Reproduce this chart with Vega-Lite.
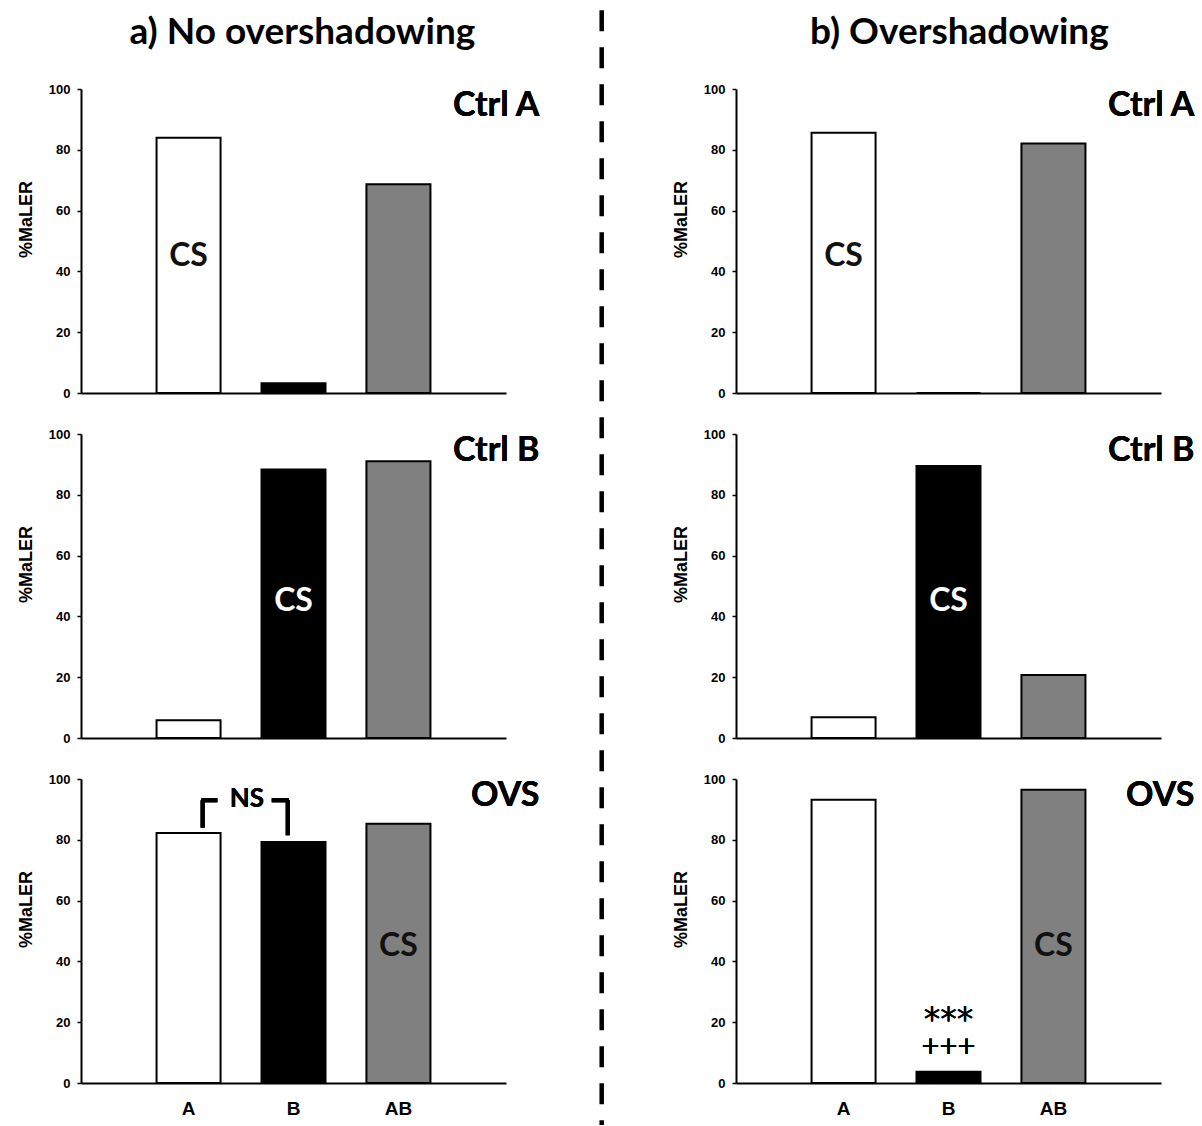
{
  "$schema": "https://vega.github.io/schema/vega-lite/v6.json",
  "padding": {"left": 17, "top": 8, "right": 0, "bottom": 0},
  "background": "white",
  "spacing": 41,
  "datasets": {
    "bars": [
      {"cond": "a", "panel": "Ctrl A", "stim": "A", "value": 84, "cs": "CS"},
      {"cond": "a", "panel": "Ctrl A", "stim": "B", "value": 3.2, "cs": ""},
      {"cond": "a", "panel": "Ctrl A", "stim": "AB", "value": 68.7, "cs": ""},
      {"cond": "a", "panel": "Ctrl B", "stim": "A", "value": 5.8, "cs": ""},
      {"cond": "a", "panel": "Ctrl B", "stim": "B", "value": 88.3, "cs": "CS"},
      {"cond": "a", "panel": "Ctrl B", "stim": "AB", "value": 91, "cs": ""},
      {"cond": "a", "panel": "OVS", "stim": "A", "value": 82.2, "cs": ""},
      {"cond": "a", "panel": "OVS", "stim": "B", "value": 79.3, "cs": ""},
      {"cond": "a", "panel": "OVS", "stim": "AB", "value": 85.3, "cs": "CS"},
      {"cond": "b", "panel": "Ctrl A", "stim": "A", "value": 85.6, "cs": "CS"},
      {"cond": "b", "panel": "Ctrl A", "stim": "B", "value": 0, "cs": ""},
      {"cond": "b", "panel": "Ctrl A", "stim": "AB", "value": 82.1, "cs": ""},
      {"cond": "b", "panel": "Ctrl B", "stim": "A", "value": 6.8, "cs": ""},
      {"cond": "b", "panel": "Ctrl B", "stim": "B", "value": 89.5, "cs": "CS"},
      {"cond": "b", "panel": "Ctrl B", "stim": "AB", "value": 20.7, "cs": ""},
      {"cond": "b", "panel": "OVS", "stim": "A", "value": 93.2, "cs": ""},
      {"cond": "b", "panel": "OVS", "stim": "B", "value": 3.7, "cs": ""},
      {"cond": "b", "panel": "OVS", "stim": "AB", "value": 96.5, "cs": "CS"}
    ]
  },
  "config": {
    "view": {"stroke": null},
    "font": "Liberation Sans",
    "axis": {"domainColor": "black", "domainWidth": 2, "tickColor": "black", "tickWidth": 1.5, "labelColor": "black", "labelFontWeight": "bold", "titleColor": "black", "grid": false},
    "axisY": {"tickSize": 4, "labelFontSize": 13, "labelPadding": 7, "titleFontSize": 18, "titleFontWeight": "bold", "titlePadding": 13, "titleY": 130},
    "axisX": {"ticks": false, "labelAngle": 0, "labelFontSize": 19, "labelPadding": 16},
    "title": {"font": "Lato", "fontSize": 37, "fontWeight": "bold", "color": "black", "anchor": "middle", "offset": 31}
  },
  "hconcat": [
    {
      "title": {"text": "a) No overshadowing", "dx": 24},
      "spacing": 28,
      "vconcat": [
        {
          "width": 425, "height": 304,
          "data": {"name": "bars"},
          "transform": [{"filter": "datum.cond === 'a' && datum.panel === 'Ctrl A'"}],
          "layer": [
            {"mark": {"type": "bar", "stroke": "black", "strokeWidth": 2},
             "encoding": {
               "x": {"field": "stim", "type": "nominal", "sort": ["A", "B", "AB"], "scale": {"paddingInner": 0.39, "paddingOuter": 0.72}, "axis": {"labels": false, "title": null}},
               "y": {"field": "value", "type": "quantitative", "scale": {"domain": [0, 100]}, "title": "%MaLER", "axis": {"values": [0, 20, 40, 60, 80, 100]}},
               "fill": {"field": "stim", "type": "nominal", "scale": {"domain": ["A", "B", "AB"], "range": ["white", "black", "#808080"]}, "legend": null}}},
            {"transform": [{"filter": "datum.cs === 'CS'"}],
             "mark": {"type": "text", "font": "Lato", "fontSize": 32, "fontWeight": "bold", "baseline": "middle"},
             "encoding": {"x": {"field": "stim", "type": "nominal", "sort": ["A", "B", "AB"]}, "y": {"datum": 45},
               "text": {"field": "cs"},
               "fill": {"condition": {"test": "datum.stim === 'B'", "value": "white"}, "value": "#111111"}}},
            {"mark": {"type": "text", "font": "Lato", "fontSize": 34, "fontWeight": "bold", "align": "right", "baseline": "top", "dx": 141, "dy": 0},
             "encoding": {"x": {"datum": "AB"}, "y": {"datum": 100}, "text": {"value": "Ctrl A"}, "color": {"value": "black"}}}
          ]
        },
        {
          "width": 425, "height": 304,
          "data": {"name": "bars"},
          "transform": [{"filter": "datum.cond === 'a' && datum.panel === 'Ctrl B'"}],
          "layer": [
            {"mark": {"type": "bar", "stroke": "black", "strokeWidth": 2},
             "encoding": {
               "x": {"field": "stim", "type": "nominal", "sort": ["A", "B", "AB"], "scale": {"paddingInner": 0.39, "paddingOuter": 0.72}, "axis": {"labels": false, "title": null}},
               "y": {"field": "value", "type": "quantitative", "scale": {"domain": [0, 100]}, "title": "%MaLER", "axis": {"values": [0, 20, 40, 60, 80, 100]}},
               "fill": {"field": "stim", "type": "nominal", "scale": {"domain": ["A", "B", "AB"], "range": ["white", "black", "#808080"]}, "legend": null}}},
            {"transform": [{"filter": "datum.cs === 'CS'"}],
             "mark": {"type": "text", "font": "Lato", "fontSize": 32, "fontWeight": "bold", "baseline": "middle"},
             "encoding": {"x": {"field": "stim", "type": "nominal", "sort": ["A", "B", "AB"]}, "y": {"datum": 45},
               "text": {"field": "cs"},
               "fill": {"condition": {"test": "datum.stim === 'B'", "value": "white"}, "value": "#111111"}}},
            {"mark": {"type": "text", "font": "Lato", "fontSize": 34, "fontWeight": "bold", "align": "right", "baseline": "top", "dx": 141, "dy": 0},
             "encoding": {"x": {"datum": "AB"}, "y": {"datum": 100}, "text": {"value": "Ctrl B"}, "color": {"value": "black"}}}
          ]
        },
        {
          "width": 425, "height": 304,
          "data": {"name": "bars"},
          "transform": [{"filter": "datum.cond === 'a' && datum.panel === 'OVS'"}],
          "layer": [
            {"mark": {"type": "bar", "stroke": "black", "strokeWidth": 2},
             "encoding": {
               "x": {"field": "stim", "type": "nominal", "sort": ["A", "B", "AB"], "scale": {"paddingInner": 0.39, "paddingOuter": 0.72}, "axis": {"title": null}},
               "y": {"field": "value", "type": "quantitative", "scale": {"domain": [0, 100]}, "title": "%MaLER", "axis": {"values": [0, 20, 40, 60, 80, 100]}},
               "fill": {"field": "stim", "type": "nominal", "scale": {"domain": ["A", "B", "AB"], "range": ["white", "black", "#808080"]}, "legend": null}}},
            {"transform": [{"filter": "datum.cs === 'CS'"}],
             "mark": {"type": "text", "font": "Lato", "fontSize": 32, "fontWeight": "bold", "baseline": "middle"},
             "encoding": {"x": {"field": "stim", "type": "nominal", "sort": ["A", "B", "AB"]}, "y": {"datum": 45},
               "text": {"field": "cs"},
               "fill": {"condition": {"test": "datum.stim === 'B'", "value": "white"}, "value": "#111111"}}},
            {"mark": {"type": "text", "font": "Lato", "fontSize": 34, "fontWeight": "bold", "align": "right", "baseline": "top", "dx": 141, "dy": 0},
             "encoding": {"x": {"datum": "AB"}, "y": {"datum": 100}, "text": {"value": "OVS"}, "color": {"value": "black"}}},
            {"mark": {"type": "rule", "strokeWidth": 4, "color": "black"},
             "encoding": {"x": {"datum": "A", "bandPosition": 0.72}, "y": {"datum": 84}, "y2": {"datum": 93}}},
            {"mark": {"type": "rule", "strokeWidth": 4, "color": "black"},
             "encoding": {"x": {"datum": "A", "bandPosition": 0.70}, "x2": {"datum": "A", "bandPosition": 0.95}, "y": {"datum": 93}}},
            {"mark": {"type": "rule", "strokeWidth": 4, "color": "black"},
             "encoding": {"x": {"datum": "B", "bandPosition": 0.16}, "x2": {"datum": "B", "bandPosition": 0.43}, "y": {"datum": 93}}},
            {"mark": {"type": "rule", "strokeWidth": 4, "color": "black"},
             "encoding": {"x": {"datum": "B", "bandPosition": 0.41}, "y": {"datum": 93}, "y2": {"datum": 81.5}}},
            {"mark": {"type": "text", "font": "Lato", "fontSize": 26, "fontWeight": "bold", "baseline": "middle", "color": "black"},
             "encoding": {"x": {"datum": "A", "bandPosition": 1.41}, "y": {"datum": 93.5}, "text": {"value": "NS"}}}
          ]
        }
      ]
    },
    {
      "width": 50, "height": 1036,
      "data": {"values": [{}]},
      "mark": {"type": "rule", "strokeDash": [21, 16], "strokeWidth": 4.5, "color": "black", "clip": false},
      "encoding": {
        "x": {"datum": 0.414, "type": "quantitative", "scale": {"domain": [0, 1]}, "axis": null},
        "y": {"datum": 1.076, "type": "quantitative", "scale": {"domain": [0, 1]}, "axis": null},
        "y2": {"datum": 0}
      }
    },
    {
      "title": {"text": "b) Overshadowing", "dx": 26},
      "spacing": 28,
      "vconcat": [
        {
          "width": 425, "height": 304,
          "data": {"name": "bars"},
          "transform": [{"filter": "datum.cond === 'b' && datum.panel === 'Ctrl A'"}],
          "layer": [
            {"mark": {"type": "bar", "stroke": "black", "strokeWidth": 2},
             "encoding": {
               "x": {"field": "stim", "type": "nominal", "sort": ["A", "B", "AB"], "scale": {"paddingInner": 0.39, "paddingOuter": 0.72}, "axis": {"labels": false, "title": null}},
               "y": {"field": "value", "type": "quantitative", "scale": {"domain": [0, 100]}, "title": "%MaLER", "axis": {"values": [0, 20, 40, 60, 80, 100]}},
               "fill": {"field": "stim", "type": "nominal", "scale": {"domain": ["A", "B", "AB"], "range": ["white", "black", "#808080"]}, "legend": null}}},
            {"transform": [{"filter": "datum.cs === 'CS'"}],
             "mark": {"type": "text", "font": "Lato", "fontSize": 32, "fontWeight": "bold", "baseline": "middle"},
             "encoding": {"x": {"field": "stim", "type": "nominal", "sort": ["A", "B", "AB"]}, "y": {"datum": 45},
               "text": {"field": "cs"},
               "fill": {"condition": {"test": "datum.stim === 'B'", "value": "white"}, "value": "#111111"}}},
            {"mark": {"type": "text", "font": "Lato", "fontSize": 34, "fontWeight": "bold", "align": "right", "baseline": "top", "dx": 141, "dy": 0},
             "encoding": {"x": {"datum": "AB"}, "y": {"datum": 100}, "text": {"value": "Ctrl A"}, "color": {"value": "black"}}}
          ]
        },
        {
          "width": 425, "height": 304,
          "data": {"name": "bars"},
          "transform": [{"filter": "datum.cond === 'b' && datum.panel === 'Ctrl B'"}],
          "layer": [
            {"mark": {"type": "bar", "stroke": "black", "strokeWidth": 2},
             "encoding": {
               "x": {"field": "stim", "type": "nominal", "sort": ["A", "B", "AB"], "scale": {"paddingInner": 0.39, "paddingOuter": 0.72}, "axis": {"labels": false, "title": null}},
               "y": {"field": "value", "type": "quantitative", "scale": {"domain": [0, 100]}, "title": "%MaLER", "axis": {"values": [0, 20, 40, 60, 80, 100]}},
               "fill": {"field": "stim", "type": "nominal", "scale": {"domain": ["A", "B", "AB"], "range": ["white", "black", "#808080"]}, "legend": null}}},
            {"transform": [{"filter": "datum.cs === 'CS'"}],
             "mark": {"type": "text", "font": "Lato", "fontSize": 32, "fontWeight": "bold", "baseline": "middle"},
             "encoding": {"x": {"field": "stim", "type": "nominal", "sort": ["A", "B", "AB"]}, "y": {"datum": 45},
               "text": {"field": "cs"},
               "fill": {"condition": {"test": "datum.stim === 'B'", "value": "white"}, "value": "#111111"}}},
            {"mark": {"type": "text", "font": "Lato", "fontSize": 34, "fontWeight": "bold", "align": "right", "baseline": "top", "dx": 141, "dy": 0},
             "encoding": {"x": {"datum": "AB"}, "y": {"datum": 100}, "text": {"value": "Ctrl B"}, "color": {"value": "black"}}}
          ]
        },
        {
          "width": 425, "height": 304,
          "data": {"name": "bars"},
          "transform": [{"filter": "datum.cond === 'b' && datum.panel === 'OVS'"}],
          "layer": [
            {"mark": {"type": "bar", "stroke": "black", "strokeWidth": 2},
             "encoding": {
               "x": {"field": "stim", "type": "nominal", "sort": ["A", "B", "AB"], "scale": {"paddingInner": 0.39, "paddingOuter": 0.72}, "axis": {"title": null}},
               "y": {"field": "value", "type": "quantitative", "scale": {"domain": [0, 100]}, "title": "%MaLER", "axis": {"values": [0, 20, 40, 60, 80, 100]}},
               "fill": {"field": "stim", "type": "nominal", "scale": {"domain": ["A", "B", "AB"], "range": ["white", "black", "#808080"]}, "legend": null}}},
            {"transform": [{"filter": "datum.cs === 'CS'"}],
             "mark": {"type": "text", "font": "Lato", "fontSize": 32, "fontWeight": "bold", "baseline": "middle"},
             "encoding": {"x": {"field": "stim", "type": "nominal", "sort": ["A", "B", "AB"]}, "y": {"datum": 45},
               "text": {"field": "cs"},
               "fill": {"condition": {"test": "datum.stim === 'B'", "value": "white"}, "value": "#111111"}}},
            {"mark": {"type": "text", "font": "Lato", "fontSize": 34, "fontWeight": "bold", "align": "right", "baseline": "top", "dx": 141, "dy": 0},
             "encoding": {"x": {"datum": "AB"}, "y": {"datum": 100}, "text": {"value": "OVS"}, "color": {"value": "black"}}},
            {"mark": {"type": "text", "font": "DejaVu Sans", "fontSize": 33, "baseline": "middle", "color": "black"},
             "encoding": {"x": {"datum": "B"}, "y": {"datum": 20.5}, "text": {"value": "***"}}},
            {"mark": {"type": "text", "font": "Lato", "fontSize": 31, "baseline": "middle", "color": "black"},
             "encoding": {"x": {"datum": "B"}, "y": {"datum": 11.5}, "text": {"value": "+++"}}}
          ]
        }
      ]
    }
  ]
}
